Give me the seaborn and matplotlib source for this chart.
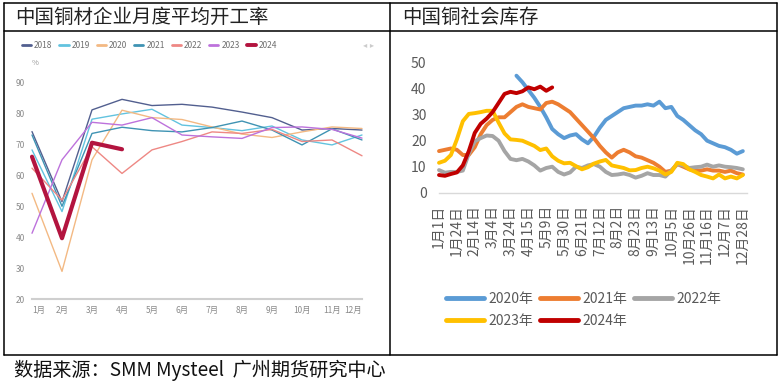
import numpy as np
import pandas as pd
import matplotlib
matplotlib.use('Agg')
import matplotlib.pyplot as plt
import seaborn as sns
from matplotlib.lines import Line2D

# ---- 左图：中国铜材企业月度平均开工率 (%) ----
months = ['1月', '2月', '3月', '4月', '5月', '6月', '7月', '8月', '9月', '10月', '11月', '12月']
rate_2018 = [74.1, 51.5, 81.1, 84.5, 82.5, 82.9, 82.0, 80.4, 78.6, 74.6, 75.1, 74.6]
rate_2019 = [68.2, 48.3, 78.1, 79.8, 81.3, 76.2, 75.4, 74.4, 75.9, 71.4, 69.8, 73.0]
rate_2020 = [54.2, 29.0, 65.0, 81.0, 78.6, 78.0, 75.6, 73.3, 72.2, 74.0, 75.6, 75.1]
rate_2021 = [73.0, 50.0, 73.5, 75.5, 74.4, 74.0, 75.4, 77.5, 74.6, 69.8, 75.0, 71.4]
rate_2022 = [62.3, 52.0, 69.2, 60.6, 68.2, 70.9, 74.0, 73.5, 74.8, 70.9, 71.4, 66.3]
rate_2023 = [41.3, 65.0, 77.1, 76.2, 78.6, 73.0, 72.4, 71.9, 75.4, 75.6, 74.8, 72.0]
rate_2024 = [66.0, 39.7, 70.5, 68.4]

# ---- 右图：中国铜社会库存 (万吨)，约每周一个点 ----
na = np.nan
stock_2020 = [na] * 13 + [45, 42.5, 39.5, 36.5, 33, 29, 24.5, 22.5, 21, 22, 22.5, 20.5, 19, 21.5,
                          25, 28, 29.5, 31, 32.5, 33, 33.5, 33.5, 34, 33.5, 35, 32.5, 33, 29.5,
                          28, 26, 24, 22.5, 20, 19, 18, 17.5, 16.5, 15, 16]
stock_2021 = [16, 16.5, 17, 16.5, 14.5, 14.5, 17.5, 22.5, 26, 28, 29, 29, 31, 33, 34, 33, 32.5,
              32, 34.5, 35, 34, 32.5, 31, 28.5, 26, 23.5, 21, 18, 15.5, 13.5, 15.5, 16.5, 15.5,
              14, 13.5, 12.5, 11.5, 10, 8, 8.5, 11, 10, 9, 8.5, 8.5, 9, 8.5, 8.5, 8, 8.5, 7.5, 7]
stock_2022 = [8.7, 7.7, 8, 8, 8.5, 15, 19.8, 21, 22, 21.8, 20, 16, 13, 12.5, 13, 12, 10.5, 8.5,
              9.5, 10, 8, 7, 7.8, 10, 9.5, 10.5, 11, 10, 8, 6.8, 7, 7.4, 6.8, 5.8, 6.5, 7.5, 6.8,
              6.8, 6.2, 8.5, 11, 10.5, 9.5, 9.8, 10, 10.8, 10, 10.5, 10, 9.8, 9.5, 9]
stock_2023 = [11.5, 12.3, 14.5, 20.5, 27.5, 30.3, 30.6, 31, 31.5, 31.5, 27, 22.8, 20.5, 20.3, 20,
              19, 18, 16.4, 17, 14, 12.3, 11.3, 11.5, 10.2, 9, 9.8, 11.2, 12, 12.6, 10.5, 10, 9.5,
              8.6, 8.7, 9.5, 10, 9.4, 8.5, 7, 8, 11.5, 11, 9, 8, 6.8, 6.2, 5.5, 7, 5.5, 6.2, 5.5, 6.8]
stock_2024 = [6.8, 6.5, 7.2, 7.8, 10.5, 16, 23, 26.5, 28.5, 31, 34.5, 38, 38.8, 38.3, 39, 40.5,
              39.8, 40.8, 39.2, 40.5]
date_labels = ['1月1日', '1月24日', '2月14日', '3月4日', '3月24日', '4月15日', '5月9日', '5月30日',
               '6月21日', '7月12日', '8月2日', '8月23日', '9月13日', '10月5日', '10月26日',
               '11月16日', '12月7日', '12月28日']

sns.set_theme(style='white')
plt.rcParams['font.family'] = ['Noto Sans CJK SC', 'DejaVu Sans']

W, H = 781, 384
fig = plt.figure(figsize=(W / 100, H / 100), dpi=100)


def px_box(x0, y0, x1, y1):
    return [x0 / W, 1 - y1 / H, (x1 - x0) / W, (y1 - y0) / H]


def fig_line(x0, y0, x1, y1):
    fig.add_artist(Line2D([x0 / W, x1 / W], [1 - y0 / H, 1 - y1 / H],
                          transform=fig.transFigure, color='black', lw=1.1))


# 表格框线
fig_line(4, 3, 777, 3)
fig_line(4, 31, 777, 31)
fig_line(4, 355, 777, 355)
fig_line(4, 3, 4, 355)
fig_line(390, 3, 390, 355)
fig_line(777, 3, 777, 355)

fig.text(15 / W, 1 - 17 / H, '中国铜材企业月度平均开工率', fontsize=14, va='center', color='#222222')
fig.text(402 / W, 1 - 17 / H, '中国铜社会库存', fontsize=14, va='center', color='#222222')
fig.text(14 / W, 1 - 370 / H, '数据来源：SMM Mysteel  广州期货研究中心', fontsize=13.8, va='center',
         color='#111111')

# ---- 左图 ----
ax1 = fig.add_axes(px_box(32, 82.3, 362, 299.3))
left_series = [('2018', rate_2018, '#525f8f', 1.0), ('2019', rate_2019, '#62c3df', 1.0),
               ('2020', rate_2020, '#f3b983', 1.0), ('2021', rate_2021, '#3f93b3', 1.0),
               ('2022', rate_2022, '#ee8884', 1.0), ('2023', rate_2023, '#bd72dc', 1.0),
               ('2024', rate_2024, '#b3143f', 3.0)]
handles = []
for name, vals, col, lw in left_series:
    sns.lineplot(x=np.arange(len(vals)), y=vals, ax=ax1, color=col, lw=lw, clip_on=False)
    handles.append(Line2D([], [], color=col, lw=2 if lw < 2 else 2.8))
ax1.set_xlim(0, 11)
ax1.set_ylim(20, 90)
ax1.set_yticks(range(20, 91, 10))
ax1.set_xticks(range(12))
ax1.set_xticklabels(months)
xl = ax1.get_xticklabels()
xl[0].set_ha('left')
xl[-1].set_ha('right')
ax1.tick_params(axis='both', length=0, labelsize=6, labelcolor='#8a8a8a')
ax1.tick_params(axis='x', pad=5)
ax1.tick_params(axis='y', pad=5)
for s in ['top', 'right', 'left']:
    ax1.spines[s].set_visible(False)
ax1.spines['bottom'].set_color('#cfcfcf')
ax1.spines['bottom'].set_linewidth(1.5)
ax1.set_xlabel('')
ax1.set_ylabel('')
ax1.set_facecolor('none')
fig.text(35 / W, 1 - 63 / H, '%', fontsize=5.5, color='#999999', ha='center', va='center')
fig.text(369 / W, 1 - 45 / H, '◂ ▸', fontsize=6, color='#cccccc', ha='center', va='center',
         family='DejaVu Sans')
leg1 = fig.legend(handles, [s[0] for s in left_series], ncol=7, frameon=False,
                  loc='center left', bbox_to_anchor=(22 / W, 1 - 45 / H),
                  fontsize=6, handlelength=1.1, handletextpad=0.35,
                  columnspacing=0.84, borderpad=0, borderaxespad=0)
for t in leg1.get_texts():
    t.set_color('#6f6f6f')

# ---- 右图 ----
ax2 = fig.add_axes(px_box(439, 62.7, 747, 192.7))
right_series = [('2020年', stock_2020, '#5b9bd5'), ('2021年', stock_2021, '#ed7d31'),
                ('2022年', stock_2022, '#a5a5a5'), ('2023年', stock_2023, '#ffc000'),
                ('2024年', stock_2024, '#c00000')]
rh = {}
for name, vals, col in right_series:
    sns.lineplot(x=np.arange(len(vals)), y=vals, ax=ax2, color=col, lw=2.8, clip_on=False)
    rh[name] = Line2D([], [], color=col, lw=3.5, solid_capstyle='round')
ax2.set_xlim(0, 51.7)
ax2.set_ylim(0, 50)
ax2.set_yticks(range(0, 51, 10))
ax2.set_xticks(range(0, 52, 3))
ax2.set_xticklabels(date_labels, rotation=90)
ax2.tick_params(axis='both', length=0, labelsize=10, labelcolor='#595959')
ax2.tick_params(axis='x', pad=9)
ax2.tick_params(axis='y', pad=9)
for s in ['top', 'right', 'left']:
    ax2.spines[s].set_visible(False)
ax2.spines['bottom'].set_color('#d9d9d9')
ax2.spines['bottom'].set_linewidth(1)
ax2.set_xlabel('')
ax2.set_ylabel('')
ax2.set_facecolor('none')
order = ['2020年', '2023年', '2021年', '2024年', '2022年']
leg2 = fig.legend([rh[k] for k in order], order, ncol=3, frameon=False, loc='upper left',
                  bbox_to_anchor=(446 / W, 1 - 292 / H), fontsize=10, handlelength=2.7,
                  handletextpad=0.35, columnspacing=0.5, labelspacing=0.55, borderpad=0,
                  borderaxespad=0)
for t in leg2.get_texts():
    t.set_color('#595959')

fig.savefig('out.png', dpi=100, facecolor='white')
